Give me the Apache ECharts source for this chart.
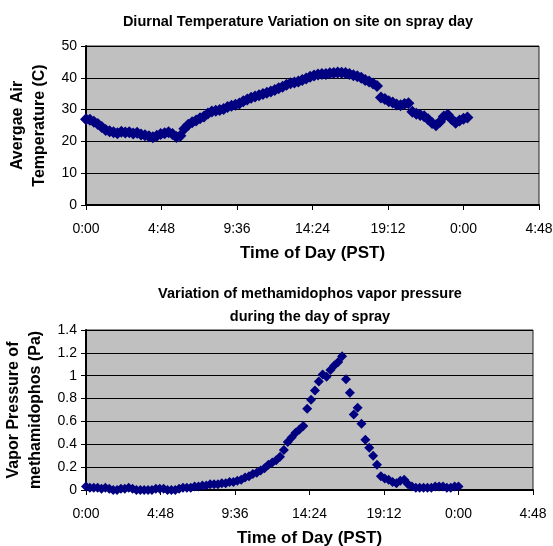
<!DOCTYPE html>
<html>
<head>
<meta charset="utf-8">
<script src="https://cdn.jsdelivr.net/npm/echarts@6/dist/echarts.min.js"></script>
<style>html,body{margin:0;padding:0;background:#fff}#c{width:553px;height:546px}</style>
</head>
<body>
<div id="c"></div>
<script>
// Sampling: readings every 15 minutes starting at 0:00
const sampleStepMinutes = 15;

// Average air temperature (C), 15-min readings from 0:00
const temperature = [
  27.0, 26.8, 26.2, 25.5, 24.5, 23.6, 23.2, 22.9, 22.6, 23.0,
  22.8, 22.9, 22.5, 22.7, 22.2, 21.9, 21.6, 21.3, 21.8, 22.3,
  22.6, 22.9, 22.3, 21.4, 21.8, 24.0, 25.2, 26.0, 26.6, 27.3,
  27.8, 28.8, 29.4, 29.6, 29.9, 30.2, 30.8, 31.2, 31.5, 31.9,
  32.6, 33.2, 33.7, 34.1, 34.5, 34.9, 35.3, 35.7, 36.2, 36.7,
  37.2, 37.8, 38.3, 38.5, 38.8, 39.3, 39.8, 40.3, 40.7, 41.0,
  41.2, 41.2, 41.4, 41.5, 41.7, 41.6, 41.5, 41.2, 40.8, 40.5,
  40.0, 39.3, 38.8, 38.2, 37.4, 33.8, 33.3, 32.6, 32.2, 31.6,
  31.4, 31.8, 32.0, 29.3, 28.7, 28.3, 27.9, 27.0, 25.8, 25.1,
  26.2, 27.8, 28.4, 27.0, 25.9, 26.6, 27.1, 27.5
];

// Methamidophos vapor pressure (Pa), 15-min readings from 0:00
const vaporPressure = [
  0.03, 0.02, 0.02, 0.02, 0.01, 0.02, 0.01, 0.00, 0.00, 0.01,
  0.01, 0.02, 0.01, 0.00, 0.00, 0.00, 0.00, 0.00, 0.01, 0.01,
  0.01, 0.00, 0.00, 0.00, 0.01, 0.02, 0.02, 0.02, 0.03, 0.03,
  0.04, 0.04, 0.05, 0.05, 0.05, 0.06, 0.06, 0.07, 0.07, 0.08,
  0.09, 0.11, 0.12, 0.14, 0.15, 0.17, 0.19, 0.22, 0.24, 0.26,
  0.29, 0.35, 0.42, 0.46, 0.50, 0.53, 0.56, 0.71, 0.79, 0.87,
  0.95, 1.01, 0.99, 1.05, 1.09, 1.12, 1.17, 0.97, 0.85, 0.66,
  0.72, 0.58, 0.44, 0.37, 0.30, 0.22, 0.12, 0.10, 0.09, 0.07,
  0.06, 0.08, 0.09, 0.05, 0.03, 0.02, 0.02, 0.02, 0.02, 0.02,
  0.03, 0.03, 0.03, 0.02, 0.02, 0.03, 0.03
];

// Axis ticks (fraction of a day; Excel time scale)
const xMin = 0, xMax = 1.2, xInterval = 0.2;
const tempTicks = {min: 0, max: 50, interval: 10};
const vpTicks = {min: 0, max: 1.4, interval: 0.2};

const titleTop = 'Diurnal Temperature Variation on site on spray day';
const titleBottom = 'Variation of methamidophos vapor pressure\nduring the day of spray';
const xName = 'Time of Day (PST)';
const yNameTop = 'Avergae Air\nTemperature (C)';
const yNameBottom = 'Vapor Pressure of\nmethamidophos (Pa)';

function toPairs(vals) {
  return vals.map((v, i) => [i * sampleStepMinutes / 1440, v]);
}
function timeLabel(v) {
  const m = Math.round(v * 1440) % 1440;
  const h = Math.floor(m / 60), mm = m % 60;
  return h + ':' + (mm < 10 ? '0' : '') + mm;
}

const FONT = '"Liberation Sans", Arial, sans-serif';
const NAVY = '#000080';

function xAxis(gridIndex) {
  return {
    type: 'value', gridIndex, min: xMin, max: xMax, interval: xInterval,
    axisLine: {show: true, onZero: false, lineStyle: {color: '#000', width: 2}},
    axisTick: {show: true, length: 5, lineStyle: {color: '#000', width: 1}},
    axisLabel: {formatter: timeLabel, color: '#000', fontSize: 14, fontFamily: FONT, margin: 17},
    splitLine: {show: false},
    name: xName, nameLocation: 'middle', nameGap: 40,
    nameTextStyle: {fontSize: 17, fontWeight: 'bold', color: '#000', fontFamily: FONT}
  };
}
function yAxis(gridIndex, t, name) {
  return {
    type: 'value', gridIndex, min: t.min, max: t.max, interval: t.interval,
    axisLine: {show: true, lineStyle: {color: '#000', width: 2}},
    axisTick: {show: true, length: 5, lineStyle: {color: '#000', width: 1}},
    axisLabel: {color: '#000', fontSize: 14, fontFamily: FONT, margin: 9},
    splitLine: {show: true, lineStyle: {color: '#000', width: 1}},
    name, nameLocation: 'middle', nameGap: 34, nameRotate: 90,
    nameTextStyle: {fontSize: 16, fontWeight: 'bold', color: '#000', fontFamily: FONT, lineHeight: 22}
  };
}

const chart = echarts.init(document.getElementById('c'), null, {renderer: 'canvas'});
chart.setOption({
  animation: false,
  backgroundColor: '#fff',
  title: [
    {text: titleTop, left: 293, top: 9, textAlign: 'center',
     textStyle: {fontSize: 14.5, fontWeight: 'bold', color: '#000', fontFamily: FONT}},
    {text: titleBottom, left: 305, top: 277, textAlign: 'center',
     textStyle: {fontSize: 14.5, fontWeight: 'bold', color: '#000', fontFamily: FONT, lineHeight: 23}}
  ],
  grid: [
    {left: 86, right: 14, top: 46, height: 159, show: true, containLabel: false, outerBoundsMode: 'none',
     backgroundColor: '#C0C0C0', borderColor: '#222', borderWidth: 1},
    {left: 86, right: 20, top: 330, height: 160, show: true, containLabel: false, outerBoundsMode: 'none',
     backgroundColor: '#C0C0C0', borderColor: '#222', borderWidth: 1}
  ],
  xAxis: [xAxis(0), xAxis(1)],
  yAxis: [yAxis(0, tempTicks, yNameTop), yAxis(1, vpTicks, yNameBottom)],
  series: [
    {type: 'scatter', xAxisIndex: 0, yAxisIndex: 0, data: toPairs(temperature),
     symbol: 'diamond', symbolSize: 12, itemStyle: {color: NAVY, opacity: 1}},
    {type: 'scatter', xAxisIndex: 1, yAxisIndex: 1, data: toPairs(vaporPressure),
     symbol: 'diamond', symbolSize: 10, itemStyle: {color: NAVY, opacity: 1}}
  ]
});
</script>
</body>
</html>
